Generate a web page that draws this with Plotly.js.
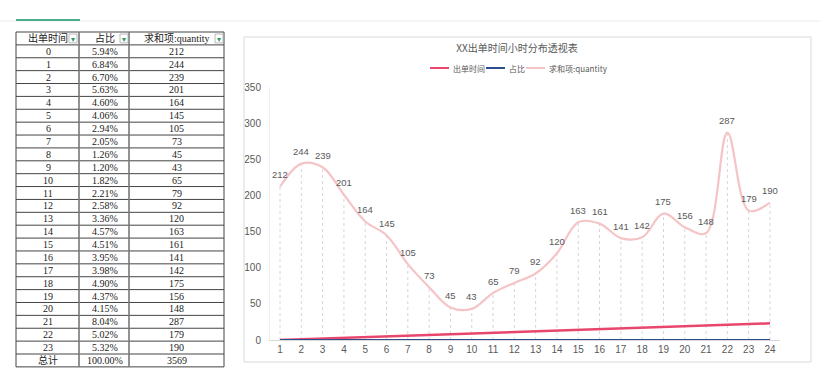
<!DOCTYPE html>
<html><head><meta charset="utf-8">
<script src="https://cdn.plot.ly/plotly-3.0.1.min.js"></script>
<style>html,body{margin:0;padding:0;background:#fff;}#chart{width:820px;height:387px;}</style>
</head><body><div id="chart"></div>
<script>
// ---- data ----
var hours = [0,1,2,3,4,5,6,7,8,9,10,11,12,13,14,15,16,17,18,19,20,21,22,23];
var axisLabels = ['1','2','3','4','5','6','7','8','9','10','11','12','13','14','15','16','17','18','19','20','21','22','23','24'];
var share = [0.0594,0.0684,0.0670,0.0563,0.0460,0.0406,0.0294,0.0205,0.0126,0.0120,0.0182,0.0221,0.0258,0.0336,0.0457,0.0451,0.0395,0.0398,0.0490,0.0437,0.0415,0.0804,0.0502,0.0532];
var shareText = ['5.94%','6.84%','6.70%','5.63%','4.60%','4.06%','2.94%','2.05%','1.26%','1.20%','1.82%','2.21%','2.58%','3.36%','4.57%','4.51%','3.95%','3.98%','4.90%','4.37%','4.15%','8.04%','5.02%','5.32%'];
var quantity = [212,244,239,201,164,145,105,73,45,43,65,79,92,120,163,161,141,142,175,156,148,287,179,190];
var headers = ['出单时间','占比','求和项:quantity'];
var totalRow = ['总计','100.00%','3569'];
var seriesNames = ['出单时间','占比','求和项:quantity'];
var seriesColors = ['#E8466C','#2E4E8C','#F5C4C6'];
var yTicks = [0,50,100,150,200,250,300,350];

// ---- helpers ----
var W = 820, H = 387;
function px(x){return x/W;}
function py(y){return 1 - y/H;}

var shapes = [], annotations = [];
function hline(x0,x1,y,color,w){shapes.push({type:'line',xref:'paper',yref:'paper',x0:px(x0),x1:px(x1),y0:py(y),y1:py(y),line:{color:color,width:w}});}
function vline(x,y0,y1,color,w){shapes.push({type:'line',xref:'paper',yref:'paper',x0:px(x),x1:px(x),y0:py(y0),y1:py(y1),line:{color:color,width:w}});}
function ptext(x,y,t,font,anchor){annotations.push({xref:'paper',yref:'paper',x:px(x),y:py(y),text:t,showarrow:false,xanchor:anchor||'center',yanchor:'middle',font:font});}

// page decorations
hline(0,820,21,'#ebebeb',1);
hline(16,80,20,'#4BAE8A',2);
shapes.push({type:'rect',xref:'paper',yref:'paper',x0:px(244),x1:px(811),y0:py(362),y1:py(37),line:{color:'#d9d9d9',width:1}});

// ---- table drawn from the arrays ----
var tTop = 32, rowH = 12.88, colX = [16,79,129,224];
var nRows = 1 + hours.length + 1;
var tBottom = tTop + nRows*rowH;
for (var r=0; r<=nRows; r++) hline(colX[0],colX[3],tTop+r*rowH,'#444',1);
colX.forEach(function(x,i){vline(x,tTop,tBottom,(i==0||i==3)?'#444':'#777',(i==0||i==3)?1:1.6);});
var tFont = {family:'Liberation Serif, Noto Sans CJK SC', size:10, color:'#222'};
var headCx = [48,105,177];
headers.forEach(function(h,i){ptext(headCx[i],tTop+rowH/2,h,tFont);});
var dropBoxX = [69,120,215];
dropBoxX.forEach(function(x){
  shapes.push({type:'rect',xref:'paper',yref:'paper',x0:px(x),x1:px(x+8),y0:py(tTop+rowH-2),y1:py(tTop+2),line:{color:'#aaa',width:0.8},fillcolor:'#fff'});
  ptext(x+4,tTop+rowH/2+0.5,'▾',{size:8,color:'#2E9E5B'});
});
var cellCx = [48,104.5,176.5];
hours.forEach(function(h,i){
  var cy = tTop + (i+1.5)*rowH;
  ptext(cellCx[0],cy,String(h),tFont);
  ptext(cellCx[1],cy,shareText[i],tFont);
  ptext(cellCx[2],cy,String(quantity[i]),tFont);
});
totalRow.forEach(function(t,i){ptext(cellCx[i],tTop+(nRows-0.5)*rowH,t,tFont);});

// ---- manual legend ----
var legFont = {family:'Noto Sans CJK SC', size:8, color:'#595959'};
var legLineX = [430,486,526];
seriesNames.forEach(function(n,i){
  hline(legLineX[i],legLineX[i]+19,68,seriesColors[i],2);
  ptext(legLineX[i]+21,68,n,legFont,'left');
});

// ---- data labels ----
axisLabels.forEach(function(l,i){
  annotations.push({xref:'x',yref:'y',x:i,y:quantity[i],text:String(quantity[i]),showarrow:false,
    yshift:12,font:{family:'Liberation Sans, Noto Sans CJK SC',size:9.5,color:'#595959'}});
});

// drop lines built from data
var dropX = [], dropY = [];
axisLabels.forEach(function(l,i){dropX.push(l,l,null);dropY.push(0,quantity[i],null);});

var tickFont = {family:'Liberation Sans, Noto Sans CJK SC', size:10, color:'#595959'};

var traces = [
  {type:'scatter', mode:'lines', x:dropX, y:dropY, showlegend:false, hoverinfo:'skip',
   line:{color:'#d6d6d6', width:1, dash:'3px,3px'}},
  {type:'scatter', mode:'lines', name:seriesNames[0], x:axisLabels, y:hours,
   line:{color:seriesColors[0], width:2.5}},
  {type:'scatter', mode:'lines', name:seriesNames[1], x:axisLabels, y:share,
   line:{color:seriesColors[1], width:2}},
  {type:'scatter', mode:'lines', name:seriesNames[2], x:axisLabels, y:quantity,
   line:{color:seriesColors[2], width:2.2, shape:'spline', smoothing:1}}
];

var layout = {
  width:W, height:H, margin:{l:0,r:0,t:0,b:0},
  paper_bgcolor:'#fff', plot_bgcolor:'#fff',
  showlegend:false,
  title:{text:'XX出单时间小时分布透视表', x:px(517), xanchor:'center', y:py(48), yanchor:'middle',
    font:{family:'Noto Sans CJK SC', size:10, color:'#595959'}},
  xaxis:{domain:[px(270),px(780)], type:'category', range:[-0.47,23.47],
    showgrid:false, zeroline:false, showline:true, linecolor:'#d9d9d9', linewidth:1,
    ticks:'', tickfont:tickFont, fixedrange:true},
  yaxis:{domain:[py(340),py(87)], range:[0,350], tickvals:yTicks, ticktext:yTicks.map(String),
    showgrid:false, zeroline:false, showline:true, linecolor:'#eeeeee', linewidth:1,
    ticks:'', tickfont:tickFont, ticklabelstandoff:6},
  shapes:shapes,
  annotations:annotations
};

Plotly.newPlot('chart', traces, layout, {displayModeBar:false, staticPlot:true});
</script></body></html>
